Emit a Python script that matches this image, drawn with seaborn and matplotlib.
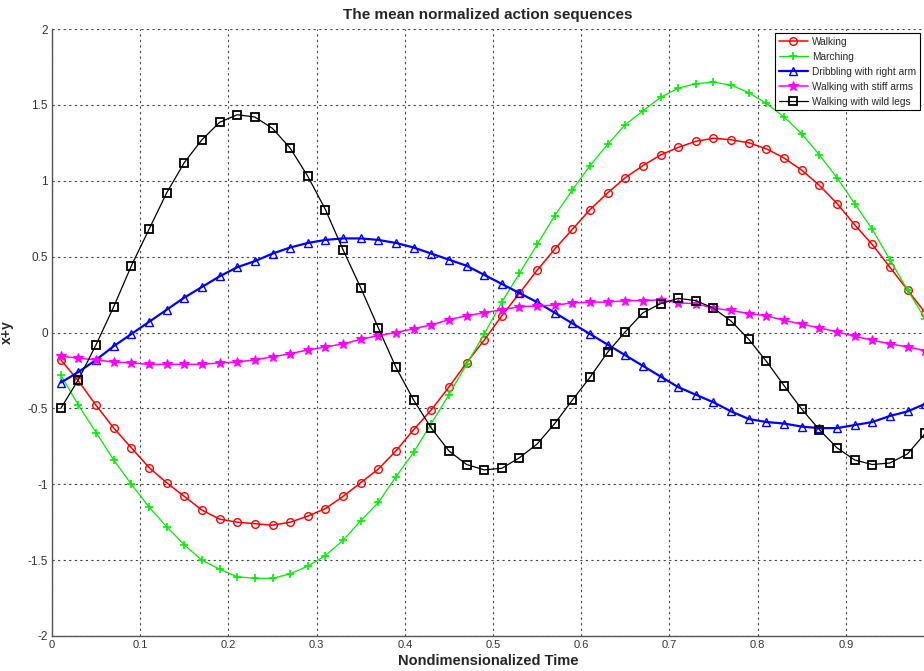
import numpy as np
import pandas as pd
import matplotlib
matplotlib.use("Agg")
import matplotlib.pyplot as plt
import seaborn as sns

# ---- data ----
time = [0.01, 0.03, 0.05, 0.07, 0.09, 0.11, 0.13, 0.15, 0.17, 0.19,
        0.21, 0.23, 0.25, 0.27, 0.29, 0.31, 0.33, 0.35, 0.37, 0.39,
        0.41, 0.43, 0.45, 0.47, 0.49, 0.51, 0.53, 0.55, 0.57, 0.59,
        0.61, 0.63, 0.65, 0.67, 0.69, 0.71, 0.73, 0.75, 0.77, 0.79,
        0.81, 0.83, 0.85, 0.87, 0.89, 0.91, 0.93, 0.95, 0.97, 0.99]

walking = [-0.18, -0.32, -0.48, -0.63, -0.76, -0.89, -0.99, -1.08, -1.17, -1.23,
           -1.25, -1.26, -1.27, -1.25, -1.21, -1.16, -1.08, -0.99, -0.90, -0.78,
           -0.64, -0.51, -0.36, -0.20, -0.05, 0.11, 0.26, 0.41, 0.55, 0.68,
           0.81, 0.92, 1.02, 1.10, 1.17, 1.22, 1.26, 1.28, 1.27, 1.25,
           1.21, 1.15, 1.07, 0.97, 0.85, 0.71, 0.58, 0.43, 0.28, 0.13]

marching = [-0.28, -0.48, -0.66, -0.84, -1.00, -1.15, -1.28, -1.40, -1.50, -1.56,
            -1.61, -1.62, -1.62, -1.59, -1.54, -1.47, -1.37, -1.24, -1.12, -0.95,
            -0.79, -0.60, -0.41, -0.21, -0.01, 0.20, 0.39, 0.58, 0.77, 0.94,
            1.10, 1.24, 1.37, 1.46, 1.55, 1.61, 1.64, 1.65, 1.63, 1.58,
            1.51, 1.42, 1.31, 1.17, 1.02, 0.85, 0.68, 0.48, 0.28, 0.09]

dribbling = [-0.33, -0.26, -0.18, -0.09, -0.01, 0.07, 0.15, 0.23, 0.30, 0.37,
             0.43, 0.47, 0.52, 0.56, 0.59, 0.61, 0.62, 0.62, 0.61, 0.59,
             0.56, 0.52, 0.48, 0.44, 0.38, 0.32, 0.26, 0.20, 0.13, 0.06,
             -0.01, -0.08, -0.15, -0.22, -0.29, -0.36, -0.41, -0.46, -0.52, -0.57,
             -0.59, -0.60, -0.62, -0.63, -0.63, -0.61, -0.59, -0.55, -0.52, -0.47]

stiff_arms = [-0.155, -0.17, -0.18, -0.195, -0.20, -0.21, -0.21, -0.21, -0.21, -0.20,
              -0.195, -0.18, -0.16, -0.14, -0.115, -0.095, -0.075, -0.045, -0.02, 0.00,
              0.025, 0.05, 0.085, 0.11, 0.13, 0.15, 0.17, 0.175, 0.18, 0.195,
              0.20, 0.20, 0.21, 0.21, 0.215, 0.195, 0.19, 0.16, 0.145, 0.125,
              0.11, 0.08, 0.055, 0.03, 0.005, -0.025, -0.05, -0.075, -0.095, -0.12]

wild_legs = [-0.50, -0.31, -0.08, 0.17, 0.44, 0.68, 0.92, 1.12, 1.27, 1.385,
             1.435, 1.42, 1.345, 1.215, 1.03, 0.81, 0.545, 0.295, 0.03, -0.23,
             -0.445, -0.63, -0.78, -0.87, -0.905, -0.895, -0.825, -0.735, -0.60, -0.445,
             -0.295, -0.13, 0.005, 0.13, 0.19, 0.225, 0.21, 0.16, 0.075, -0.045,
             -0.19, -0.35, -0.505, -0.64, -0.76, -0.84, -0.87, -0.86, -0.80, -0.665]

labels = ["Walking", "Marching", "Dribbling with right arm",
          "Walking with stiff arms", "Walking with wild legs"]

x_ticks = [0, 0.1, 0.2, 0.3, 0.4, 0.5, 0.6, 0.7, 0.8, 0.9]
x_tick_labels = ["0", "0.1", "0.2", "0.3", "0.4", "0.5", "0.6", "0.7", "0.8", "0.9"]
y_ticks = [-2, -1.5, -1, -0.5, 0, 0.5, 1, 1.5, 2]
y_tick_labels = ["-2", "-1.5", "-1", "-0.5", "0", "0.5", "1", "1.5", "2"]

# ---- style ----
sns.set_style("white")
plt.rcParams["font.family"] = ["Liberation Sans", "DejaVu Sans"]
plt.rcParams["axes.unicode_minus"] = False

fig = plt.figure(figsize=(9.24, 6.71), dpi=100)
ax = fig.add_axes([52 / 924, 1 - 636 / 671, 1 - 52 / 924, (636 - 29) / 671])

styles = [
    dict(color="#ff0000", marker="o", markerfacecolor="none", markeredgecolor="#ff0000",
         markersize=5.5, markeredgewidth=1.0, linewidth=1.1),
    dict(color="#00ee00", marker="+", markeredgecolor="#00ee00",
         markersize=6, markeredgewidth=1.2, linewidth=0.9),
    dict(color="#0000ff", marker="^", markerfacecolor="none", markeredgecolor="#0000ff",
         markersize=5.5, markeredgewidth=1.0, linewidth=1.6),
    dict(color="#ff00ff", marker="*", markerfacecolor="#ff00ff", markeredgecolor="#ff00ff",
         markersize=7.5, markeredgewidth=0.8, linewidth=1.1),
    dict(color="#000000", marker="s", markerfacecolor="none", markeredgecolor="#000000",
         markersize=5.5, markeredgewidth=1.3, linewidth=0.9),
]

series = [walking, marching, dribbling, stiff_arms, wild_legs]
for vals, lab, st in zip(series, labels, styles):
    df = pd.DataFrame({"t": time, "v": vals})
    sns.lineplot(data=df, x="t", y="v", ax=ax, label=lab, sort=False, **st)

ax.set_xlim(0, 872 / 882)
ax.set_ylim(-2, 2)
ax.set_xticks(x_ticks)
ax.set_xticklabels(x_tick_labels, fontsize=8,
                   family=["Liberation Sans Narrow", "Liberation Sans", "DejaVu Sans"])
ax.set_yticks(y_ticks)
ax.set_yticklabels(y_tick_labels, fontsize=8.5)
ax.tick_params(direction="in", length=5, width=0.8, colors="#333333", pad=3)

ax.grid(True, linestyle=(0, (2, 3)), color="#444444", linewidth=0.8)
for s in ["top", "right"]:
    ax.spines[s].set_visible(False)
for s in ["left", "bottom"]:
    ax.spines[s].set_color("#555555")
    ax.spines[s].set_linewidth(1.0)

ax.set_title("The mean normalized action sequences", fontsize=11, fontweight="bold", pad=7)
ax.set_xlabel("Nondimensionalized Time", fontsize=10.5, fontweight="bold", labelpad=3,
              family=["Liberation Sans Narrow", "Liberation Sans", "DejaVu Sans"])
ax.set_ylabel("x+y", fontsize=10, fontweight="bold", labelpad=10)

leg = ax.legend(loc="upper left", bbox_to_anchor=(775 / 924, 1 - 33 / 671),
                bbox_transform=fig.transFigure, borderaxespad=0, fontsize=7.3, frameon=True,
                fancybox=False, edgecolor="#000000", framealpha=1,
                borderpad=0.35, labelspacing=0.5, handlelength=2.9, handletextpad=0.4)
leg.get_frame().set_linewidth(0.8)

fig.savefig("out.png", dpi=100)
